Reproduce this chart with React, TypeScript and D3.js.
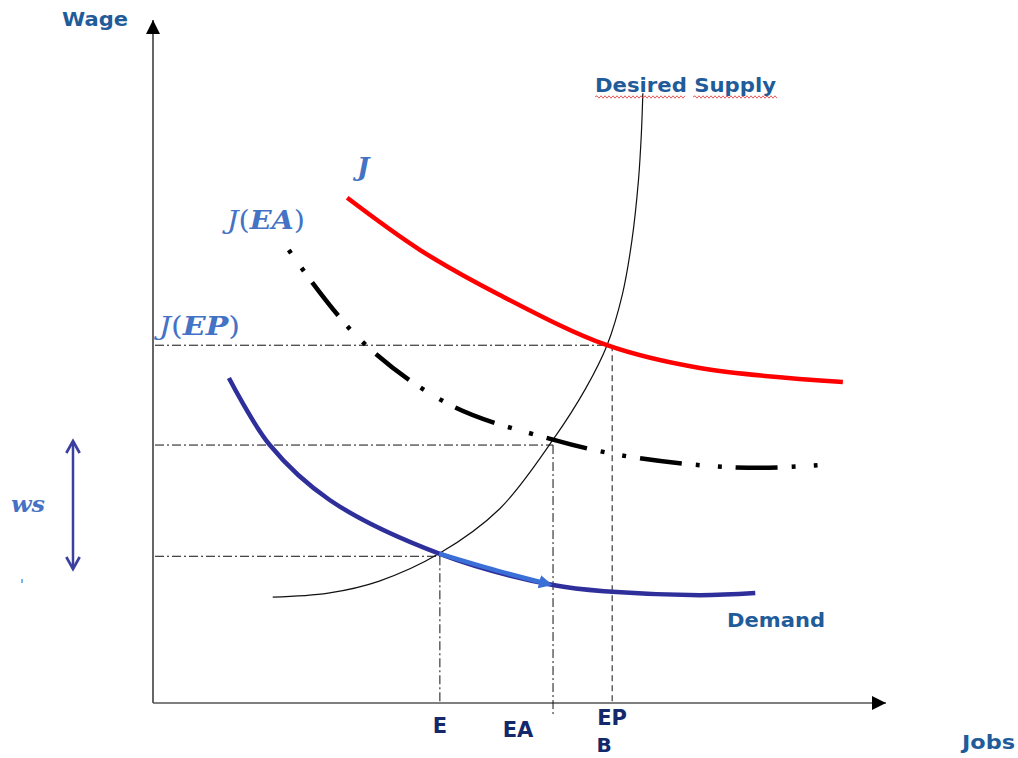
import React from "react";
import * as d3 from "d3";

// data (jobs 0..100, wage 0..100)
const curveJ: [number, number][] = [[26.6, 75.4], [36.6, 67.6], [47.5, 60.9], [62.2, 53.4], [74.9, 50.0], [94.5, 47.9]];
const curveJEA: [number, number][] = [[18.6, 67.6], [28.4, 54.2], [40.7, 44.5], [54.8, 39.3], [64.0, 37.0], [74.9, 35.5], [83.2, 35.1], [91.1, 35.5]];
const curveDemand: [number, number][] = [[10.4, 48.5], [16.0, 38.5], [24.2, 30.3], [39.2, 22.3], [54.8, 17.6], [62.9, 16.6], [74.9, 16.1], [82.5, 16.4]];
const curveShift: [number, number][] = [[39.2, 22.3], [47.0, 19.8], [54.0, 17.8]];
const curveSupply: [number, number][] = [[16.4, 15.8], [24.0, 16.4], [31.0, 18.2], [39.2, 22.3], [47.5, 29.0], [54.8, 39.3], [59.3, 47.0], [62.2, 53.4], [64.3, 61.0], [65.6, 69.0], [66.5, 78.0], [66.9, 85.0], [67.1, 91.0]];
const eqNames = ["E", "EA", "EP"];
const eqJobs = [39.3, 54.8, 62.9];
const eqWages = [21.9, 38.5, 53.4];

const W = 1018, H = 758;
const x = d3.scaleLinear().domain([0, 100]).range([153, 883]);
const y = d3.scaleLinear().domain([0, 100]).range([703, 33]);
const line = d3.line<[number, number]>().x(d => x(d[0])).y(d => y(d[1])).curve(d3.curveCatmullRom.alpha(0.5));

const labelBlue = "#1f5c99";
const mathBlue = "#4472c4";
const navy = "#13296b";

function wavy(x0: number, x1: number, yy: number) {
  let d = `M${x0},${yy}`;
  let up = true;
  for (let xx = x0 + 2; xx <= x1; xx += 2) {
    d += ` L${xx},${yy + (up ? -1.2 : 1.2)}`;
    up = !up;
  }
  return d;
}

export default function App() {
  const sans = "'DejaVu Sans', Verdana, sans-serif";
  const serif = "'DejaVu Serif', 'Liberation Serif', serif";
  return (
    <svg width={W} height={H} style={{ position: "absolute", left: 0, top: 0, background: "#fff" }}>
      <defs>
        <marker id="triBig" viewBox="0 0 10 10" refX="10" refY="5" markerWidth="14" markerHeight="14" markerUnits="userSpaceOnUse" orient="auto">
          <path d="M0,0 L10,5 L0,10 z" fill="#000" />
        </marker>
        <marker id="blueHead" viewBox="0 0 10 10" refX="6" refY="5" markerWidth="3" markerHeight="3" orient="auto">
          <path d="M0,0 L10,5 L0,10 z" fill="#3a6fd8" />
        </marker>
        <marker id="chev" viewBox="0 0 12 12" refX="10" refY="6" markerWidth="16" markerHeight="16" markerUnits="userSpaceOnUse" orient="auto">
          <path d="M1,1 L10,6 L1,11" fill="none" stroke="#3b3f9e" strokeWidth="2" />
        </marker>
      </defs>

      {/* axes */}
      <line x1={x(0)} y1={y(0)} x2={x(0)} y2={20} stroke="#333" strokeWidth={1.5} markerEnd="url(#triBig)" />
      <line x1={x(0)} y1={y(0)} x2={886} y2={y(0)} stroke="#555" strokeWidth={1.5} markerEnd="url(#triBig)" />

      {/* guide lines */}
      {eqNames.map((n, i) => (
        <line key={"h" + n} x1={x(0) + 2} x2={x(eqJobs[i])} y1={y(eqWages[i])} y2={y(eqWages[i])}
          stroke="#111" strokeWidth={1} strokeDasharray="9 3 2 3" />
      ))}
      <line x1={x(eqJobs[0])} x2={x(eqJobs[0])} y1={y(eqWages[0])} y2={y(0)} stroke="#111" strokeWidth={1} strokeDasharray="9 3 2 3" />
      <line x1={x(eqJobs[1])} x2={x(eqJobs[1])} y1={y(eqWages[1])} y2={y(-1.8)} stroke="#111" strokeWidth={1} strokeDasharray="9 3 2 3" />
      <line x1={x(eqJobs[2])} x2={x(eqJobs[2])} y1={y(eqWages[2])} y2={y(0)} stroke="#111" strokeWidth={1} strokeDasharray="6 4" />

      {/* curves */}
      <path d={line(curveSupply) || ""} fill="none" stroke="#111" strokeWidth={1.2} />
      <path d={line(curveJ) || ""} fill="none" stroke="#ff0000" strokeWidth={4.5} />
      <path d={line(curveJEA) || ""} fill="none" stroke="#000" strokeWidth={4.5} strokeDasharray="4 18 4 14 42 14" />
      <path d={line(curveDemand) || ""} fill="none" stroke="#2e2f9a" strokeWidth={4.5} />
      <path d={line(curveShift) || ""} fill="none" stroke="#3a6fd8" strokeWidth={4.5} markerEnd="url(#blueHead)" />

      {/* ws arrow */}
      <line x1={73} x2={73} y1={505} y2={441} stroke="#3b3f9e" strokeWidth={2.5} markerEnd="url(#chev)" />
      <line x1={73} x2={73} y1={505} y2={569} stroke="#3b3f9e" strokeWidth={2.5} markerEnd="url(#chev)" />

      {/* labels */}
      <text x={62} y={26} fill={labelBlue} fontFamily={sans} fontWeight="bold" fontSize={20} textLength={66} lengthAdjust="spacingAndGlyphs">Wage</text>
      <text x={962} y={749} fill={labelBlue} fontFamily={sans} fontWeight="bold" fontSize={20} textLength={53} lengthAdjust="spacingAndGlyphs">Jobs</text>
      <text x={727} y={627} fill={labelBlue} fontFamily={sans} fontWeight="bold" fontSize={20} textLength={98} lengthAdjust="spacingAndGlyphs">Demand</text>
      <text x={595} y={92} fill={labelBlue} fontFamily={sans} fontWeight="bold" fontSize={20} textLength={181} lengthAdjust="spacingAndGlyphs">Desired Supply</text>
      <path d={wavy(595, 685, 97)} fill="none" stroke="#e03030" strokeWidth={0.8} />
      <path d={wavy(693, 777, 97)} fill="none" stroke="#e03030" strokeWidth={0.8} />

      <text x={x(eqJobs[0])} y={733} textAnchor="middle" fill={navy} fontFamily={sans} fontWeight="bold" fontSize={21}>E</text>
      <text x={518} y={737} textAnchor="middle" fill={navy} fontFamily={sans} fontWeight="bold" fontSize={21}>EA</text>
      <text x={612} y={725} textAnchor="middle" fill={navy} fontFamily={sans} fontWeight="bold" fontSize={21}>EP</text>
      <text x={604} y={752} textAnchor="middle" fill={navy} fontFamily={sans} fontWeight="bold" fontSize={20}>B</text>

      <text x={357} y={176} fill={mathBlue} fontFamily={serif} fontStyle="italic" fontWeight="bold" fontSize={26}>J</text>
      <text x={227} y={229} fill={mathBlue} fontFamily={serif} fontStyle="italic" fontSize={26} textLength={78} lengthAdjust="spacingAndGlyphs">
        J<tspan fontStyle="normal">(</tspan><tspan fontWeight="bold">EA</tspan><tspan fontStyle="normal">)</tspan>
      </text>
      <text x={159} y={335} fill={mathBlue} fontFamily={serif} fontStyle="italic" fontSize={26} textLength={81} lengthAdjust="spacingAndGlyphs">
        J<tspan fontStyle="normal">(</tspan><tspan fontWeight="bold">EP</tspan><tspan fontStyle="normal">)</tspan>
      </text>
      <text x={11} y={512} fill={mathBlue} fontFamily={serif} fontStyle="italic" fontWeight="bold" fontSize={22} textLength={34} lengthAdjust="spacingAndGlyphs">ws</text>
      <text x={20} y={590} fill={mathBlue} fontFamily={serif} fontSize={14}>'</text>
    </svg>
  );
}
